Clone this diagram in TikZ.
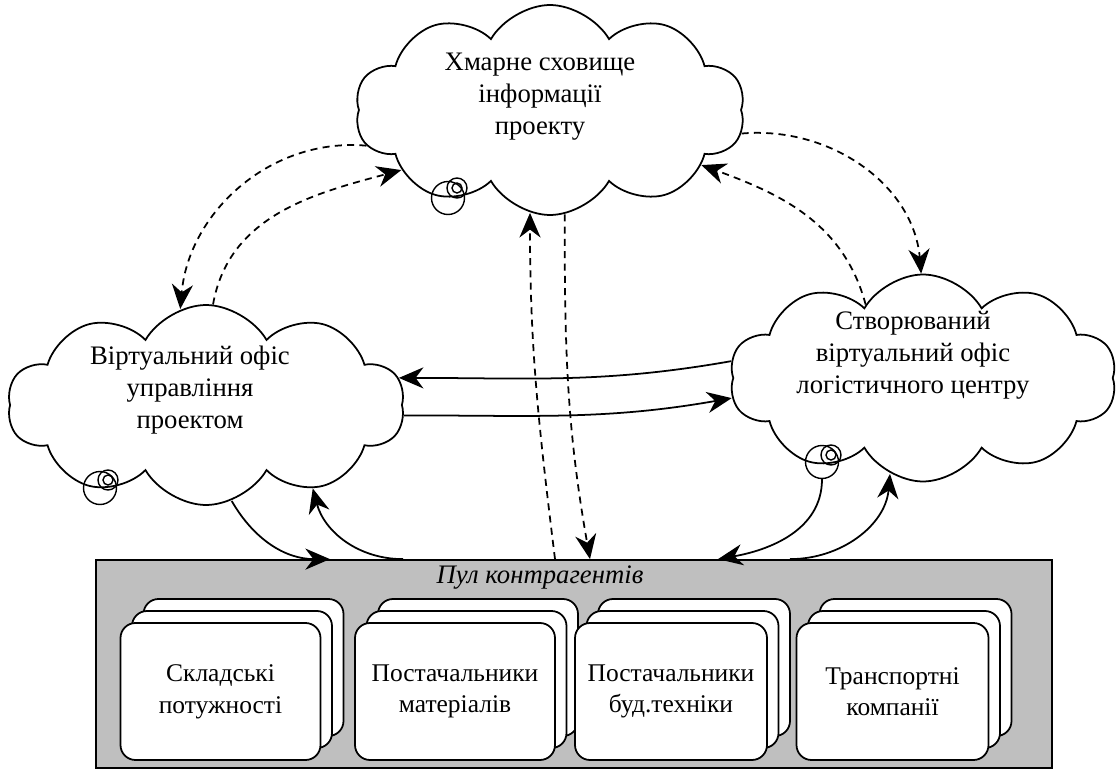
\documentclass[tikz,border=0pt]{standalone}
\usepackage{fontspec}
\setmainfont{Liberation Serif}
\usetikzlibrary{shapes.symbols, arrows.meta, positioning, calc, shadows}

\tikzset{
  cloudnode/.style={cloud, draw, line width=1pt, cloud puffs=10, cloud puff arc=120,
    cloud ignores aspect, inner sep=0pt},
  cloudtext/.style={align=center, font=\fontsize{15.2}{18.2}\selectfont},
  bubble/.style={draw, circle, line width=0.8pt, inner sep=0pt},
  link/.style={line width=1pt, -{Stealth[length=14pt, width=12pt, inset=4.5pt]}},
  dashlink/.style={link, dash pattern=on 4pt off 3pt},
  agentbox/.style={draw, fill=white, line width=1pt, rounded corners=0.3cm,
    minimum width=4.0cm, minimum height=2.74cm, align=center,
    font=\fontsize{14.5}{18}\selectfont,
    double copy shadow={shadow xshift=0.23cm, shadow yshift=0.24cm,
      fill=white, draw=black, line width=1pt}}
}

\begin{document}
\begin{tikzpicture}
    \useasboundingbox (0,0) rectangle (22.34,15.46);

    % Clouds
    \node[cloudnode, minimum width=7.8cm, minimum height=4.2cm] (store) at (11.0,13.26) {};
    \node[cloudtext] (storetext) at ([shift={(-0.2,0.26)}]store.center)
        {Хмарне сховище\\інформації\\проекту};

    \node[cloudnode, minimum width=7.94cm, minimum height=4.0cm] (mgmt) at (4.12,7.36) {};
    \node[cloudtext] (mgmttext) at ([shift={(-0.32,0.3)}]mgmt.center)
        {Віртуальний офіс\\управління\\проектом};

    \node[cloudnode, minimum width=7.74cm, minimum height=4.14cm] (logist) at (18.46,7.9) {};
    \node[cloudtext] (logisttext) at ([shift={(-0.2,0.46)}]logist.center)
        {Створюваний\\віртуальний офіс\\логістичного центру};

    % Bubbles
    \node[bubble, minimum size=0.66cm] (storebub) at ([shift={(-2.04,-1.76)}]store.center) {};
    \node[bubble, minimum size=0.4cm] (storebuba) at ([shift={(-1.86,-1.56)}]store.center) {};
    \node[bubble, minimum size=0.2cm] (storebubb) at (storebuba) {};
    \node[bubble, minimum size=0.66cm] (mgmtbub) at ([shift={(-2.12,-1.66)}]mgmt.center) {};
    \node[bubble, minimum size=0.4cm] (mgmtbuba) at ([shift={(-1.96,-1.5)}]mgmt.center) {};
    \node[bubble, minimum size=0.2cm] (mgmtbubb) at (mgmtbuba) {};
    \node[bubble, minimum size=0.66cm] (logistbub) at ([shift={(-2.02,-1.68)}]logist.center) {};
    \node[bubble, minimum size=0.4cm] (logistbuba) at ([shift={(-1.84,-1.54)}]logist.center) {};
    \node[bubble, minimum size=0.2cm] (logistbubb) at (logistbuba) {};

    % Pool of contractors
    \node[draw, fill=gray!50, line width=1pt, minimum width=19.12cm, minimum height=4.16cm] (pool) at (11.48,2.18) {};
    \node[font=\fontsize{15.2}{18}\selectfont\itshape] (poollabel) at ([shift={(-0.68,-0.36)}]pool.north) {Пул контрагентів};

    \node[agentbox] (stock) at (4.41,1.63) {Складські\\потужності};
    \node[agentbox] (matsup) at (9.1,1.63) {Постачальники\\матеріалів};
    \node[agentbox, minimum width=3.84cm] (machsup) at (13.42,1.63) {Постачальники\\буд.техніки};
    \node[agentbox, minimum width=3.84cm] (transp) at (17.85,1.63) {Транспортні\\компанії};

    % Dashed links to storage
    \draw[dashlink] (store.191) to[out=175, in=85] (mgmt.105);
    \draw[dashlink] (mgmt.86) to[out=80, in=195] (store.202);
    \draw[dashlink] (store.353) to[out=5, in=95] (logist.91);
    \draw[dashlink] (logist.128) to[out=105, in=340] (store.340);
    \draw[dashlink] ([xshift=-0.38cm]pool.north) to[out=97, in=270] (store.259);
    \draw[dashlink] (store.278) to[out=270, in=100] ([xshift=0.32cm]pool.north);

    % Links between offices
    \draw[link] (logist.175) to[out=190, in=0] (mgmt.8);
    \draw[link] (mgmt.357) to[out=0, in=190] (logist.186);

    % Links to the pool
    \draw[link] (mgmt.285) to[out=-60, in=180] ([xshift=-4.88cm]pool.north);
    \draw[link] ([xshift=-3.42cm]pool.north) to[out=180, in=-75] (mgmt.322);
    \draw[link] (logistbub.south) to[out=-90, in=10] ([xshift=2.88cm]pool.north);
    \draw[link] ([xshift=4.32cm]pool.north) to[out=0, in=-95] (logist.251);
\end{tikzpicture}
\end{document}
